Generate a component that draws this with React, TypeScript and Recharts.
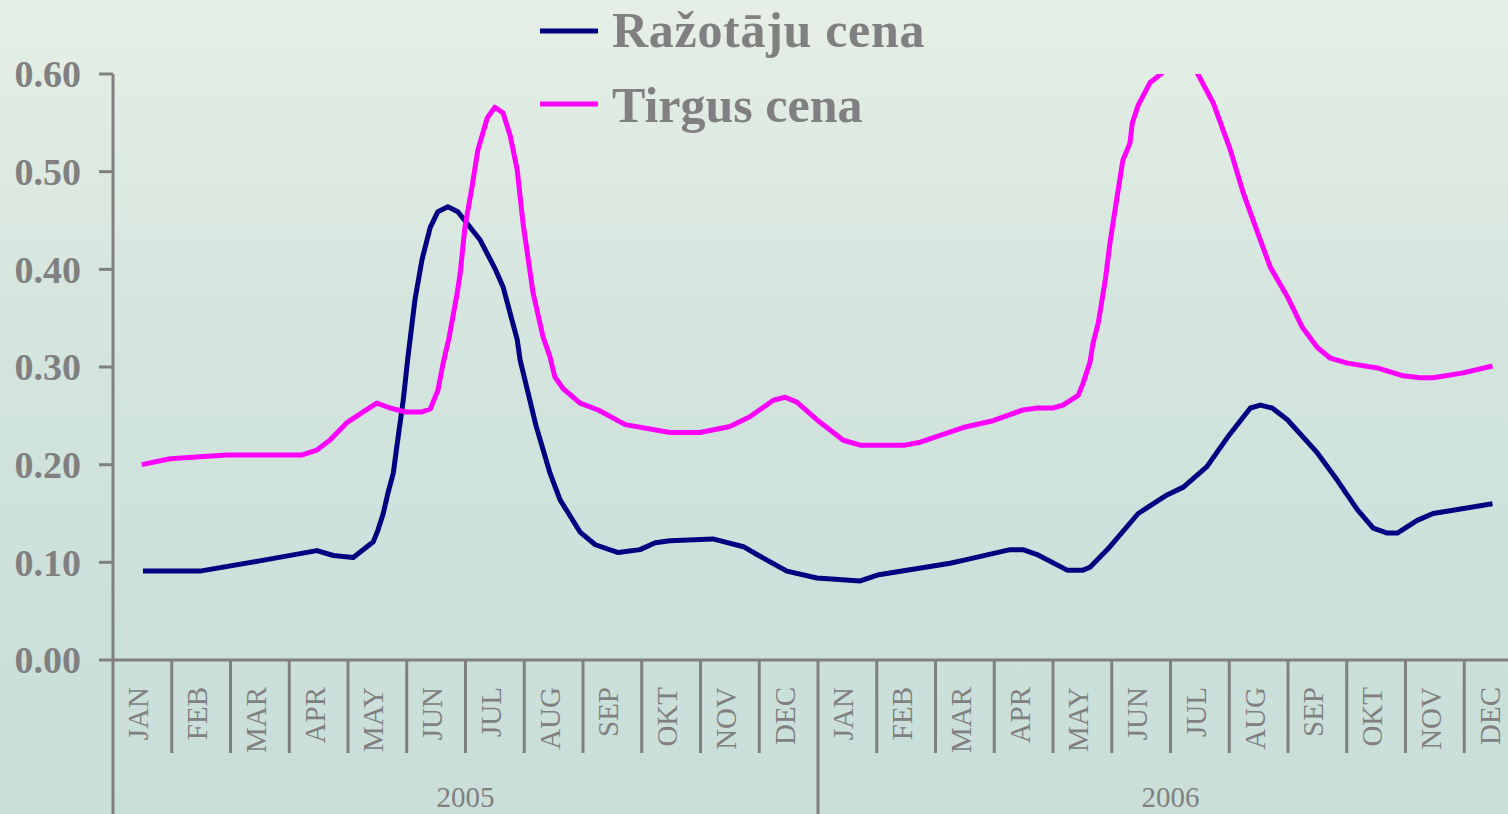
import { LineChart, Line, XAxis, YAxis, Legend } from "recharts";

// position is in months from the start of JAN 2005 (0.5 = mid January)
const razPos = [
  0.51, 1.48, 2.45, 3.47, 3.75, 4.09, 4.43, 4.51, 4.6, 4.68, 4.77, 4.83, 4.94, 5.02, 5.14, 5.26,
  5.4, 5.53, 5.7, 5.87, 6.25, 6.5, 6.64, 6.88, 6.93, 7.2, 7.44, 7.61, 7.95, 8.21, 8.6, 8.97,
  9.23, 9.48, 10.21, 10.73, 10.96, 11.47, 11.98, 12.72, 13.01, 14.25, 14.47, 15.27, 15.49, 15.73,
  16.24, 16.51, 16.63, 16.97, 17.45, 17.94, 18.22, 18.62, 18.97, 19.36, 19.53, 19.73, 19.99,
  20.5, 20.84, 21.18, 21.45, 21.69, 21.86, 22.2, 22.47, 23.48,
];
const razVal = [
  0.091, 0.091, 0.101, 0.112, 0.107, 0.105, 0.121, 0.133, 0.15, 0.171, 0.191, 0.218, 0.266, 0.31, 0.369, 0.41,
  0.443, 0.459, 0.464, 0.459, 0.43, 0.401, 0.382, 0.328, 0.307, 0.24, 0.191, 0.164, 0.131, 0.118, 0.11, 0.113,
  0.12, 0.122, 0.124, 0.116, 0.108, 0.091, 0.084, 0.081, 0.087, 0.099, 0.102, 0.113, 0.113, 0.108,
  0.092, 0.092, 0.095, 0.116, 0.15, 0.169, 0.177, 0.198, 0.228, 0.258, 0.261, 0.258, 0.246,
  0.212, 0.184, 0.154, 0.135, 0.13, 0.13, 0.143, 0.15, 0.16,
];

const tirPos = [
  0.49, 0.97, 1.48, 1.94, 3.22, 3.47, 3.69, 3.98, 4.26, 4.49, 4.72, 4.97, 5.26, 5.4, 5.53, 5.62,
  5.72, 5.86, 5.91, 5.99, 6.11, 6.21, 6.37, 6.5, 6.64, 6.76, 6.88, 6.98, 7.15, 7.32, 7.44, 7.52,
  7.66, 7.95, 8.26, 8.72, 9.48, 9.99, 10.5, 10.84, 11.24, 11.44, 11.64, 11.98, 12.43, 12.72,
  13.48, 13.74, 14.47, 14.98, 15.49, 15.73, 16.0, 16.17, 16.43, 16.51, 16.63, 16.68, 16.77,
  16.89, 16.97, 17.09, 17.19, 17.31, 17.35, 17.45, 17.65, 17.94, 18.22, 18.42, 18.73, 19.02,
  19.24, 19.48, 19.7, 19.99, 20.24, 20.5, 20.72, 21.01, 21.52, 21.96, 22.25, 22.47, 22.98, 23.48,
];
const tirVal = [
  0.2, 0.206, 0.208, 0.21, 0.21, 0.215, 0.225, 0.243, 0.254, 0.263, 0.258, 0.254, 0.254, 0.257, 0.276, 0.304,
  0.33, 0.376, 0.396, 0.443, 0.484, 0.522, 0.555, 0.566, 0.56, 0.537, 0.502, 0.447, 0.376, 0.331, 0.31, 0.29,
  0.278, 0.263, 0.256, 0.241, 0.233, 0.233, 0.239, 0.249, 0.266, 0.269, 0.264, 0.246, 0.225, 0.22,
  0.22, 0.223, 0.238, 0.245, 0.256, 0.258, 0.258, 0.261, 0.271, 0.283, 0.305, 0.324, 0.345,
  0.389, 0.427, 0.474, 0.512, 0.529, 0.55, 0.568, 0.591, 0.605, 0.612, 0.605, 0.57, 0.522,
  0.478, 0.438, 0.402, 0.372, 0.341, 0.32, 0.309, 0.304, 0.299, 0.291, 0.289, 0.289, 0.294, 0.301,
];

const months = ["JAN", "FEB", "MAR", "APR", "MAY", "JUN", "JUL", "AUG", "SEP", "OKT", "NOV", "DEC"];
const years = ["2005", "2006"];
const yTicks = [0, 0.1, 0.2, 0.3, 0.4, 0.5, 0.6];
const monthBounds = Array.from({ length: 25 }, (_, i) => i);

const razData = razPos.map((pos, i) => ({ pos, value: razVal[i] }));
const tirData = tirPos.map((pos, i) => ({ pos, value: tirVal[i] }));

const SERIF = '"Liberation Serif", "Times New Roman", serif';
const GRAY = "#808080";
const NAVY = "#000080";
const MAGENTA = "#ff00ff";

// one tick per month boundary: month label in the middle of the cell,
// plus the year label and a long separator at every January
const MonthTick = ({ x, y, payload, width }: any) => {
  const i = payload.value;
  const step = width / (monthBounds.length - 1);
  const cx = x + step / 2 + 6;
  const ly = y - 66;
  return (
    <g>
      {i < 24 && (
        <text
          x={cx}
          y={ly}
          transform={`rotate(-90, ${cx}, ${ly})`}
          textAnchor="end"
          fontFamily={SERIF}
          fontSize={29}
          fill={GRAY}
        >
          {months[i % 12]}
        </text>
      )}
      {i % 12 === 0 && <line x1={x} x2={x} y1={y} y2={y + 70} stroke={GRAY} strokeWidth={3} />}
      {i % 12 === 0 && i < 24 && (
        <text x={x + step * 6} y={y + 54} textAnchor="middle" fontFamily={SERIF} fontSize={29} fill={GRAY}>
          {years[i / 12]}
        </text>
      )}
    </g>
  );
};

const LegendBox = () => (
  <svg width={420} height={140}>
    <line x1={0} x2={58} y1={31} y2={31} stroke={NAVY} strokeWidth={5} />
    <text x={72} y={47} fontFamily={SERIF} fontWeight="bold" fontSize={50} letterSpacing={0.7} fill={GRAY}>
      Ražotāju cena
    </text>
    <line x1={0} x2={58} y1={104} y2={104} stroke={MAGENTA} strokeWidth={5} />
    <text x={72} y={122} fontFamily={SERIF} fontWeight="bold" fontSize={50} fill={GRAY}>
      Tirgus cena
    </text>
  </svg>
);

export default function App() {
  return (
    <div
      style={{
        position: "fixed",
        left: 0,
        top: 0,
        width: 1508,
        height: 814,
        overflow: "hidden",
        background: "linear-gradient(180deg, #e6efe5 0%, #d6e6df 35%, #cde0db 70%, #cadfda 100%)",
      }}
    >
      <LineChart width={1523} height={814} margin={{ top: 74, right: 0, bottom: 153, left: 0 }}>
        <YAxis
          type="number"
          domain={[0, 0.6]}
          ticks={yTicks}
          allowDataOverflow
          width={113}
          interval={0}
          tickSize={14}
          tickMargin={18}
          tickFormatter={(v: number) => v.toFixed(2)}
          axisLine={{ stroke: GRAY, strokeWidth: 3 }}
          tickLine={{ stroke: GRAY, strokeWidth: 3 }}
          tick={{ fontFamily: SERIF, fontWeight: "bold", fontSize: 38, fill: GRAY }}
        />
        <XAxis
          type="number"
          dataKey="pos"
          domain={[0, 24]}
          ticks={monthBounds}
          interval={0}
          height={1}
          tickSize={93}
          tickMargin={0}
          tick={MonthTick}
          axisLine={{ stroke: GRAY, strokeWidth: 3 }}
          tickLine={{ stroke: GRAY, strokeWidth: 3 }}
        />
        <Legend
          layout="vertical"
          align="center"
          verticalAlign="middle"
          wrapperStyle={{ position: "absolute", top: 0, left: 540, width: 420, height: 140 }}
          content={LegendBox}
        />
        <Line
          data={razData}
          dataKey="value"
          name="Ražotāju cena"
          type="linear"
          stroke={NAVY}
          strokeWidth={5}
          strokeLinejoin="round"
          dot={false}
          activeDot={false}
          isAnimationActive={false}
        />
        <Line
          data={tirData}
          dataKey="value"
          name="Tirgus cena"
          type="linear"
          stroke={MAGENTA}
          strokeWidth={5}
          strokeLinejoin="round"
          dot={false}
          activeDot={false}
          isAnimationActive={false}
        />
      </LineChart>
    </div>
  );
}
